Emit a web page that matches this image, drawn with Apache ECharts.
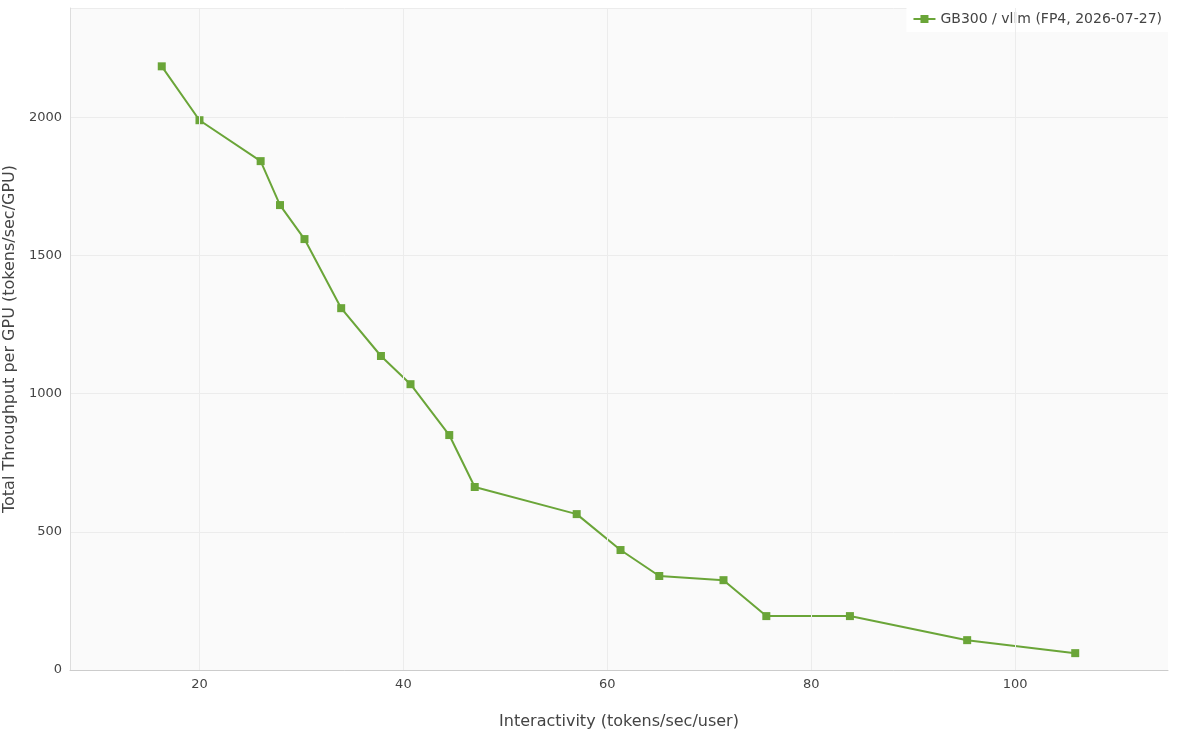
<!DOCTYPE html>
<html><head><meta charset="utf-8">
<script src="https://cdn.jsdelivr.net/npm/echarts@6/dist/echarts.min.js"></script>
<style>html,body{margin:0;padding:0;background:#fff}#c{width:1200px;height:736px}</style>
</head><body><div id="c"></div>
<script>
const seriesName = 'GB300 / vllm (FP4, 2026-07-27)';
const interactivity = [16.3,20.0,26.0,27.9,30.3,33.9,37.8,40.7,44.5,47.0,57.0,61.3,65.1,71.4,75.6,83.8,95.3,105.9];
const throughput = [2184,1989,1841,1682,1559,1309,1136,1034,850,662,564,434,340,325,195,195,108,61];
const xTicks = [20,40,60,80,100];
const data = interactivity.map((x,i)=>[x,throughput[i]]);
const font = 'DejaVu Sans';
const chart = echarts.init(document.getElementById('c'));
chart.setOption({
  animation:false,
  textStyle:{fontFamily:font},
  grid:{left:70,right:32,top:8,bottom:66,show:true,backgroundColor:'#fafafa',borderWidth:0,outerBoundsMode:'none',containLabel:false},
  legend:{right:32,top:6,backgroundColor:'#fff',padding:[6,6],itemWidth:22,itemHeight:10,
    textStyle:{fontFamily:font,fontSize:14,color:'#444'},data:[seriesName]},
  xAxis:{type:'value',min:7.3,max:115,
    name:'Interactivity (tokens/sec/user)',nameLocation:'middle',nameGap:44,
    nameTextStyle:{fontSize:16,color:'#444',fontFamily:font},
    axisLine:{show:true,lineStyle:{color:'#ccc'}},axisTick:{show:false},
    axisLabel:{color:'#444',fontSize:13,customValues:xTicks,formatter:v=>String(v)},
    splitLine:{show:false}},
  yAxis:{type:'value',min:0,max:2395,interval:500,
    name:'Total Throughput per GPU (tokens/sec/GPU)',nameLocation:'middle',nameGap:46,
    nameTextStyle:{fontSize:16,color:'#444',fontFamily:font},
    axisLine:{show:true,lineStyle:{color:'#ddd'}},axisTick:{show:false},
    axisLabel:{color:'#444',fontSize:13,showMaxLabel:false,formatter:v=>String(v)},
    splitLine:{show:true,lineStyle:{color:'#ececec'}}},
  series:[{name:seriesName,type:'line',data:data,symbol:'rect',symbolSize:8,
    itemStyle:{color:'#6aa538'},lineStyle:{color:'#6aa538',width:2},
    markLine:{silent:true,symbol:'none',label:{show:false},animation:false,
      lineStyle:{color:'#ececec',type:'solid',width:1},
      data:xTicks.map(v=>({xAxis:v}))}}]
});
</script></body></html>
